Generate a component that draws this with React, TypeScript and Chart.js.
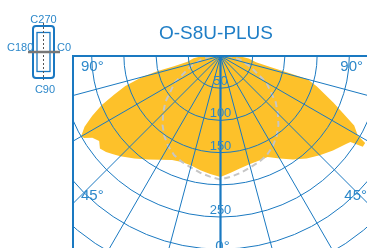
import React, { useEffect, useRef } from 'react';
import { Chart, registerables } from 'chart.js';

Chart.register(...registerables);

// ---- data ----
const TITLE = 'O-S8U-PLUS';
// C0-C180 plane (yellow), angle from nadir in degrees (negative = left), intensity in cd/klm
const C0_ANGLES = [-90, -85, -80, -77.5, -76.5, -75, -72.5, -70, -67.5, -65, -62.5, -60, -59, -57.5, -55, -52.5, -50, -47.5, -45, -40, -35, -30, -25, -20, -15, -10, -5, 0, 5, 10, 15, 20, 25, 30, 35, 40, 45, 50, 55, 56.5, 57.5, 59, 60, 62.5, 65, 67.5, 70, 72.5, 75, 76, 77.5, 80, 85, 90];
const C0_VALUES = [28, 42, 52, 74, 100, 126, 155, 176, 200, 220, 238, 250, 247, 236, 230, 236, 232, 226, 220, 208, 196, 186, 178, 175, 176, 180, 184, 188, 182, 177, 174, 173, 173, 184, 196, 208, 218, 228, 238, 242, 262, 262, 246, 234, 210, 190, 172, 157, 140, 112, 78, 56, 44, 28];
// C90-C270 plane (grey dashed)
const C90_ANGLES = [-90, -80, -70, -60, -50, -45, -40, -35, -30, -25, -20, -15, -10, -5, 0, 5, 10, 15, 20, 25, 30, 35, 40, 45, 50, 60, 70, 80, 90];
const C90_VALUES = [15, 30, 50, 82, 112, 126, 140, 152, 162, 170, 175, 179, 184, 188, 192, 188, 184, 179, 175, 170, 162, 152, 140, 126, 112, 82, 50, 30, 15];
// grid
const CIRCLE_VALUES = [50, 100, 150, 200, 250, 300, 350];
const TICK_VALUES = [50, 100, 150, 250];
const TICK_LABELS = ['50', '100', '150', '250'];
const RADIAL_ANGLES = [-90, -75, -60, -45, -30, -15, 0, 15, 30, 45, 60, 75, 90];
const ICON_LABELS = ['C270', 'C180', 'C0', 'C90'];

const BLUE = '#1a79c1';
const LABEL_BLUE = '#2d88ca';
const FONT = '"Liberation Sans", Arial, sans-serif';
const W = 367;
const H = 248;
const CX = 220.5;
const CY = 56;
const K = 0.644; // px per unit
const BOX_LEFT = 73;

const toXY = (angles: number[], values: number[]) =>
  angles.map((a, i) => {
    const t = (a * Math.PI) / 180;
    return { x: values[i] * Math.sin(t), y: -values[i] * Math.cos(t) };
  });

const polarPlugin = {
  id: 'polarGrid',
  afterDatasetsDraw(chart: any) {
    const ctx = chart.ctx;
    const xs = chart.scales.x;
    const ys = chart.scales.y;
    const cx = xs.getPixelForValue(0);
    const cy = ys.getPixelForValue(0);
    const k = xs.getPixelForValue(1) - cx;
    const area = chart.chartArea;
    ctx.save();
    ctx.beginPath();
    ctx.rect(BOX_LEFT, cy, area.right - BOX_LEFT, area.bottom - cy);
    ctx.clip();
    ctx.strokeStyle = BLUE;
    ctx.lineWidth = 1;
    CIRCLE_VALUES.forEach((v) => {
      ctx.beginPath();
      ctx.arc(cx, cy, v * k, 0, Math.PI * 2);
      ctx.stroke();
    });
    RADIAL_ANGLES.forEach((a) => {
      const t = (a * Math.PI) / 180;
      ctx.beginPath();
      ctx.lineWidth = a === 0 ? 2.2 : 1;
      ctx.moveTo(cx, cy);
      ctx.lineTo(xs.getPixelForValue(500 * Math.sin(t)), ys.getPixelForValue(-500 * Math.cos(t)));
      ctx.stroke();
    });
    ctx.restore();

    // box
    ctx.save();
    ctx.strokeStyle = BLUE;
    ctx.lineWidth = 2;
    ctx.beginPath();
    ctx.moveTo(area.right + 2, cy);
    ctx.lineTo(BOX_LEFT, cy);
    ctx.lineTo(BOX_LEFT, area.bottom + 2);
    ctx.stroke();

    // tick labels
    ctx.fillStyle = LABEL_BLUE;
    ctx.font = `13px ${FONT}`;
    ctx.textAlign = 'center';
    ctx.textBaseline = 'alphabetic';
    TICK_VALUES.forEach((v, i) => {
      ctx.fillText(TICK_LABELS[i], cx, ys.getPixelForValue(-v) - 3);
    });

    // angle labels
    ctx.font = `15px ${FONT}`;
    ctx.textAlign = 'left';
    ctx.fillText('90°', 81, 71);
    ctx.fillText('45°', 81, 200);
    ctx.textAlign = 'right';
    ctx.fillText('90°', 363, 71);
    ctx.fillText('45°', 367, 200);
    ctx.textAlign = 'center';
    ctx.fillText('0°', cx + 2, 251);

    // title
    ctx.fillStyle = '#1f7ec6';
    ctx.font = `19px ${FONT}`;
    ctx.fillText(TITLE, 216, 39);

    // icon
    ctx.strokeStyle = '#1a78c2';
    ctx.lineWidth = 2;
    ctx.beginPath();
    (ctx as any).roundRect(33, 26, 21, 52, 3);
    ctx.stroke();
    ctx.lineWidth = 1.3;
    ctx.strokeRect(37, 32.5, 13, 39);
    ctx.strokeStyle = '#555';
    ctx.lineWidth = 1;
    ctx.setLineDash([2, 2]);
    ctx.beginPath();
    ctx.moveTo(43.5, 23);
    ctx.lineTo(43.5, 80);
    ctx.stroke();
    ctx.setLineDash([]);
    ctx.strokeStyle = '#777';
    ctx.lineWidth = 2.5;
    ctx.beginPath();
    ctx.moveTo(28, 52);
    ctx.lineTo(60, 52);
    ctx.stroke();
    ctx.fillStyle = LABEL_BLUE;
    ctx.font = `11px ${FONT}`;
    ctx.textAlign = 'center';
    ctx.fillText(ICON_LABELS[0], 43.5, 22.5);
    ctx.fillText(ICON_LABELS[3], 45, 92.5);
    ctx.textAlign = 'left';
    ctx.fillText(ICON_LABELS[1], 7, 50.5);
    ctx.fillText(ICON_LABELS[2], 57, 50.5);
    ctx.restore();
  },
};

export default function App() {
  const ref = useRef<HTMLCanvasElement>(null);
  useEffect(() => {
    if (!ref.current) return;
    const chart = new Chart(ref.current, {
      type: 'scatter',
      data: {
        datasets: [
          {
            label: 'C90-C270',
            data: toXY(C90_ANGLES, C90_VALUES),
            showLine: true,
            borderColor: '#c6c6c6',
            borderWidth: 2,
            borderDash: [6, 4],
            pointRadius: 0,
            fill: false,
            tension: 0,
            order: 0,
          } as any,
          {
            label: 'C0-C180',
            data: toXY(C0_ANGLES, C0_VALUES),
            showLine: true,
            borderColor: 'rgba(0,0,0,0)',
            backgroundColor: '#fdc12a',
            borderWidth: 1,
            pointRadius: 0,
            fill: 'shape',
            tension: 0,
            order: 1,
          } as any,
        ],
      },
      options: {
        animation: false,
        responsive: false,
        maintainAspectRatio: false,
        events: [],
        layout: { padding: 0 },
        plugins: { legend: { display: false }, tooltip: { enabled: false }, title: { display: false } },
        scales: {
          x: { type: 'linear', display: false, min: -CX / K, max: (W - CX) / K },
          y: { type: 'linear', display: false, min: -(H - CY) / K, max: CY / K },
        },
      },
      plugins: [polarPlugin],
    });
    return () => chart.destroy();
  }, []);
  return (
    <div style={{ position: 'fixed', left: 0, top: 0, width: W, height: H, background: '#fff' }}>
      <canvas ref={ref} width={W} height={H} style={{ display: 'block' }} />
    </div>
  );
}
